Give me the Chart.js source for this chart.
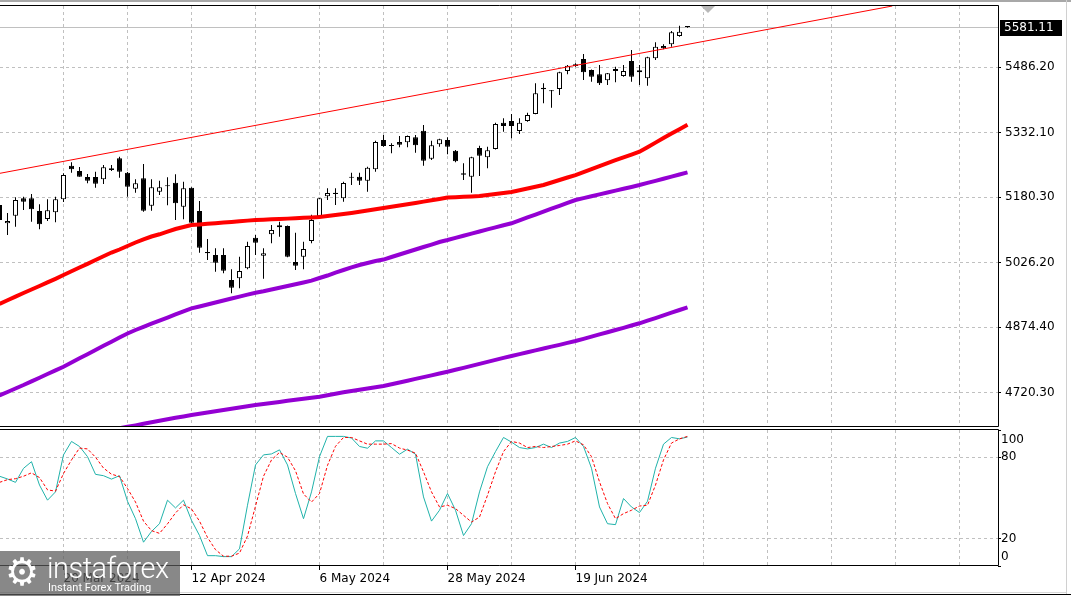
<!DOCTYPE html>
<html>
<head>
<meta charset="utf-8">
<script src="https://cdn.jsdelivr.net/npm/chart.js@4.4.1/dist/chart.umd.min.js"></script>
<style>
    html, body { margin: 0; padding: 0; background: #fff; }
    body { width: 1071px; height: 596px; position: relative; overflow: hidden; font-family: 'DejaVu Sans', sans-serif; }
    #mainChart { position: absolute; left: 0; top: 0; }
    #stochChart { position: absolute; left: 0; top: 428px; }
    .edge { position: absolute; }
    .edge-top { left: 0; top: 0; width: 1071px; height: 2px; background: #a8a8a8; }
    .edge-bottom { left: 0; top: 594px; width: 1071px; height: 1px; background: #000; }
    .edge-bottom2 { left: 0; top: 592px; width: 1067px; height: 1px; background: #d8d8d8; }
    .edge-right { left: 1066px; top: 0; width: 1px; height: 594px; background: #d0d0d0; }
    .watermark { position: absolute; left: 0; top: 551px; width: 180px; height: 45px; background: rgba(90, 90, 90, 0.72); color: #fff; }
    .watermark .gear { position: absolute; left: 5px; top: -2px; font-size: 38px; line-height: 46px; }
    .watermark .brand { position: absolute; left: 47px; top: 0; font-family: Roboto, sans-serif; font-weight: 300; font-size: 29px; line-height: 34px; letter-spacing: -0.5px; }
    .watermark .slogan { position: absolute; left: 48px; top: 30px; font-family: Roboto, sans-serif; font-size: 11px; line-height: 13px; }
</style>
</head>
<body>
<canvas id="mainChart" width="1071" height="430"></canvas>
<canvas id="stochChart" width="1071" height="168"></canvas>
<div class="edge edge-top"></div>
<div class="edge edge-bottom2"></div>
<div class="edge edge-bottom"></div>
<div class="edge edge-right"></div>
<div class="watermark"><span class="gear">⚙</span><span class="brand">instaforex</span><span class="slogan">Instant Forex Trading</span></div>
<script>
// daily bars; last bar holds the latest close
const opens = [5162.1, 5119.0, 5136.9, 5177.8, 5177.8, 5147.9, 5129.1, 5144.9, 5175.5, 5254.6, 5242.1, 5228.0, 5228.0, 5222.6, 5248.4, 5272.0, 5238.1, 5200.4, 5224.9, 5160.4, 5193.4, 5206.5, 5214.5, 5158.1,
    5202.8, 5147.9, 5051.4, 5044.4, 5044.4, 4985.5, 4989.5, 5013.0, 5085.1, 5042.7, 5093.1, 5109.6, 5112.6, 5027.9, 5040.4, 5077.3, 5135.5, 5182.5, 5191.0, 5177.8,
    5226.0, 5228.7, 5219.3, 5246.1, 5315.1, 5301.5, 5310.4, 5309.7, 5321.4, 5337.0, 5271.0, 5304.9, 5315.1, 5289.9, 5236.7, 5228.7, 5296.2, 5274.3, 5293.9, 5355.8,
    5359.8, 5336.3, 5359.8, 5376.3, 5438.2, 5432.1, 5435.1, 5477.5, 5493.3, 5505.7, 5479.8, 5469.7, 5455.6, 5477.5, 5465.7, 5501.0, 5479.1, 5460.3, 5507.4, 5536.3,
    5540.3, 5559.9, 5581.5];
const highs = [5173.8, 5143.2, 5180.2, 5181.6, 5187.9, 5163.7, 5175.5, 5181.6, 5236.7, 5262.6, 5251.5, 5235.0, 5240.4, 5256.2, 5256.2, 5275.8, 5240.0, 5222.6, 5258.6, 5222.6, 5219.3, 5227.3, 5234.3, 5216.9,
    5204.0, 5171.5, 5082.0, 5060.1, 5060.1, 5010.7, 5040.4, 5075.7, 5091.4, 5060.1, 5115.0, 5122.7, 5114.0, 5096.8, 5075.7, 5139.2, 5178.5, 5201.4, 5201.4, 5216.9,
    5238.1, 5238.1, 5252.2, 5313.4, 5326.8, 5307.3, 5324.5, 5325.5, 5326.8, 5350.4, 5313.4, 5318.0, 5321.4, 5291.5, 5260.2, 5275.5, 5301.6, 5299.3, 5355.8, 5366.1,
    5376.3, 5366.1, 5379.3, 5448.5, 5448.5, 5433.0, 5475.5, 5491.6, 5495.6, 5517.5, 5481.0, 5491.6, 5473.0, 5487.6, 5491.6, 5526.9, 5491.6, 5511.0, 5545.1, 5540.3,
    5571.7, 5584.1, 5583.0];
const lows = [5122.0, 5091.4, 5111.0, 5150.3, 5122.7, 5104.9, 5124.4, 5121.3, 5169.1, 5238.1, 5228.7, 5213.1, 5202.8, 5211.5, 5242.1, 5226.3, 5181.6, 5191.0, 5146.3, 5148.6, 5185.6, 5161.3, 5126.7, 5128.4,
    5118.5, 5049.8, 5032.6, 5005.0, 5001.3, 4954.2, 4966.0, 5010.7, 5044.4, 4988.6, 5071.9, 5087.4, 5039.0, 5009.0, 5010.7, 5071.9, 5133.8, 5173.8, 5162.1, 5169.8,
    5209.1, 5209.1, 5193.4, 5240.4, 5299.3, 5283.8, 5297.9, 5297.9, 5285.2, 5254.6, 5268.0, 5299.3, 5281.4, 5262.6, 5220.9, 5191.0, 5230.3, 5248.4, 5293.0, 5334.6,
    5319.1, 5329.2, 5358.1, 5375.5, 5401.5, 5391.1, 5421.0, 5469.7, 5487.6, 5456.3, 5452.3, 5444.5, 5444.5, 5450.9, 5464.1, 5452.3, 5444.5, 5442.9, 5503.4, 5528.6,
    5534.7, 5558.2, 5579.5];
const closes = [5126.7, 5124.4, 5173.8, 5169.8, 5151.9, 5116.6, 5149.6, 5175.5, 5232.7, 5246.1, 5228.7, 5219.3, 5212.2, 5250.8, 5244.4, 5240.4, 5205.1, 5213.1, 5148.6, 5203.7, 5203.7, 5206.0, 5166.1, 5201.4,
    5120.4, 5061.5, 5048.4, 5026.2, 5007.4, 4967.4, 5006.7, 5065.5, 5073.3, 5048.4, 5103.2, 5114.3, 5040.4, 5019.2, 5058.5, 5126.7, 5177.8, 5190.3, 5187.9, 5213.8,
    5226.3, 5219.3, 5249.9, 5310.4, 5300.9, 5300.9, 5304.0, 5324.5, 5302.6, 5266.3, 5302.6, 5316.7, 5299.3, 5264.9, 5233.4, 5274.3, 5278.1, 5290.8, 5352.7, 5348.0,
    5348.0, 5355.8, 5373.9, 5425.0, 5434.4, 5429.7, 5474.4, 5490.0, 5489.3, 5474.4, 5464.1, 5448.5, 5472.1, 5482.2, 5477.5, 5464.1, 5474.4, 5509.7, 5534.7, 5530.9,
    5568.6, 5570.0, 5581.11];

const ma50 = [4929.5, 4937.9, 4946.4, 4954.9, 4963.1, 4971.4, 4979.8, 4988.3, 4997.2, 5006.0, 5014.9, 5023.6, 5032.6, 5041.3, 5050.2, 5057.3, 5065.5, 5073.8, 5081.3, 5087.9, 5093.1, 5099.2, 5105.5, 5110.2,
    5114.9, 5116.4, 5117.8, 5119.2, 5120.6, 5122.0, 5123.7, 5125.3, 5126.7, 5127.4, 5128.4, 5129.1, 5130.0, 5131.0, 5131.9, 5132.8, 5133.8, 5136.1, 5138.5, 5140.8,
    5143.2, 5146.0, 5149.1, 5151.9, 5155.0, 5157.8, 5160.9, 5163.7, 5166.7, 5170.0, 5173.3, 5176.4, 5179.7, 5180.6, 5181.3, 5182.3, 5183.2, 5185.6, 5187.9, 5190.3,
    5192.6, 5196.6, 5200.9, 5204.9, 5209.1, 5215.0, 5220.9, 5226.8, 5232.6, 5239.7, 5246.8, 5253.8, 5260.9, 5267.5, 5274.3, 5280.9, 5287.5, 5298.1, 5308.9, 5319.7,
    5330.1, 5340.5, 5350.8];
const ma100 = [4713.6, 4721.8, 4730.1, 4738.3, 4747.0, 4755.5, 4764.2, 4772.9, 4781.4, 4791.3, 4801.2, 4810.8, 4820.7, 4830.6, 4840.2, 4850.1, 4859.5, 4867.8, 4875.3, 4882.6, 4889.9, 4897.2, 4904.5, 4911.8,
    4918.6, 4923.3, 4927.8, 4932.5, 4937.2, 4941.9, 4946.4, 4951.1, 4955.6, 4959.1, 4963.1, 4967.1, 4971.4, 4975.6, 4979.8, 4984.1, 4990.2, 4996.1, 5003.1, 5009.0,
    5015.1, 5020.8, 5025.5, 5030.2, 5033.7, 5039.6, 5045.5, 5051.4, 5057.3, 5063.2, 5069.0, 5074.9, 5079.6, 5084.8, 5089.8, 5094.7, 5099.7, 5104.6, 5109.5, 5114.5,
    5119.0, 5126.0, 5132.8, 5139.7, 5146.5, 5153.3, 5160.1, 5167.0, 5173.8, 5178.3, 5182.5, 5187.0, 5191.5, 5195.9, 5200.2, 5204.6, 5209.1, 5214.1, 5219.0, 5223.9,
    5228.9, 5233.8, 5238.8];
const ma200 = [null, null, null, null, null, null, null, null, null, null, null, null, null, null, 4632.4, 4636.4, 4639.9, 4643.4, 4647.0, 4650.5, 4654.0, 4657.6, 4661.1, 4664.4,
    4667.7, 4670.5, 4673.6, 4676.4, 4679.5, 4682.3, 4685.3, 4688.2, 4691.2, 4693.6, 4695.9, 4698.5, 4701.1, 4703.5, 4705.8, 4708.4, 4710.8, 4714.3, 4717.8, 4721.1,
    4724.2, 4727.0, 4730.1, 4733.1, 4736.0, 4740.2, 4744.2, 4748.4, 4752.7, 4756.9, 4761.1, 4765.4, 4769.6, 4774.1, 4778.8, 4783.5, 4788.2, 4792.7, 4797.4, 4802.1,
    4806.6, 4811.0, 4815.3, 4819.8, 4824.2, 4828.7, 4832.9, 4837.4, 4841.9, 4847.1, 4852.2, 4857.4, 4862.6, 4867.8, 4873.0, 4878.4, 4883.6, 4889.9, 4896.0, 4902.4,
    4908.7, 4914.9, 4921.2];

const stochK = [66, 64, 61.5, 71.8, 76.7, 59.5, 48.4, 54.5, 81.7, 91.6, 87.9, 80.4, 67.4, 66.4, 63.9, 66.4, 47.6, 34.8, 17.5, 25.4, 31.1, 48.4, 42.7, 48.4,
    33.6, 22.4, 7.6, 7.6, 6.9, 6.9, 12.6, 44.7, 74.3, 81.7, 82.4, 85.4, 74.3, 53.3, 34.8, 54.5, 80.4, 95.3, 95.3, 95.3,
    94.1, 87.9, 86.6, 92, 92, 87.1, 82.2, 85.9, 82.2, 50.8, 33, 41, 53.3, 41, 22.4, 31.1, 54.5, 73, 84.1, 94.5,
    91.1, 87.1, 86.1, 87.1, 89.6, 87.1, 90.4, 91.6, 94.5, 87.9, 71.9, 43.4, 31.1, 30.4, 49.6, 43.4, 39.3, 47.6, 71.9, 89.6,
    94.5, 93.5, 94.8];
const stochD = [61.5, 63.5, 64.2, 66, 68.5, 65, 56, 55, 68, 78, 86.7, 86.1, 80, 72, 67.5, 65.8, 57, 47, 33, 26, 24, 31, 39, 45,
    42, 33, 21, 12, 7.2, 7.2, 9.5, 22, 44, 66, 78, 83.5, 80, 70, 53, 47, 53.3, 74, 88, 94.5,
    94.5, 92, 89.6, 89.6, 89.6, 90, 86.7, 85.2, 83, 69.3, 54.5, 43.4, 44.7, 42.2, 37.3, 32.3, 36, 52, 69.3, 84.1,
    91.6, 90.4, 87.1, 87.9, 87.1, 87.9, 88.6, 89.6, 92, 89.1, 80.4, 61.9, 45.9, 34.8, 38.5, 41, 44.1, 44.7, 59.5, 78,
    90.4, 93.5, 95.3];

const trendBars = [0, 111.6];
const trendPrices = [5236.5, 5630.5];

const priceTicks = [4720.30, 4874.40, 5026.20, 5180.30, 5332.10, 5486.20];
const stochLevels = [100, 80, 20, 0];
const dateTickBars = [8, 24, 40, 56, 72];
const dateTickLabels = ['20 Mar 2024', '12 Apr 2024', '6 May 2024', '28 May 2024', '19 Jun 2024'];

const xMin = 0.0625;
const xMax = 124.8125;
const priceMin = 4639.5;
const priceMax = 5630.5;
const shiftBar = 88.6;
const lastPrice = closes[closes.length - 1];

const axisFont = { family: 'DejaVu Sans', size: 12 };
const gridColor = '#c0c0c0';
const clear = 'rgba(0,0,0,0)';

const gridBars = [];
for (let b = 8; b <= 120; b += 8) gridBars.push(b);

function toPoints(values) {
    return values.map((value, index) => ({ x: index, y: value }));
}

function lineSet(label, values, color, width, order, dash) {
    return {
        type: 'line', label, data: toPoints(values), borderColor: color, borderWidth: width,
        borderDash: dash || [], pointRadius: 0, tension: 0, fill: false, order,
    };
}

const panelFrame = {
    id: 'panelFrame',
    afterDraw(chart) {
        const { ctx, chartArea: area } = chart;
        ctx.save();
        ctx.strokeStyle = '#000';
        ctx.lineWidth = 1;
        ctx.beginPath();
        ctx.moveTo(0, area.top - 0.5);
        ctx.lineTo(area.right + 0.5, area.top - 0.5);
        ctx.lineTo(area.right + 0.5, area.bottom - 0.5);
        ctx.lineTo(0, area.bottom - 0.5);
        ctx.stroke();
        ctx.restore();
    },
};

const priceMarker = {
    id: 'priceMarker',
    beforeDatasetsDraw(chart) {
        const { ctx, chartArea: area, scales: { y } } = chart;
        const py = Math.round(y.getPixelForValue(lastPrice)) + 0.5;
        ctx.save();
        ctx.strokeStyle = '#c0c0c0';
        ctx.lineWidth = 1;
        ctx.beginPath();
        ctx.moveTo(area.left, py);
        ctx.lineTo(area.right, py);
        ctx.stroke();
        ctx.restore();
    },
    afterDraw(chart) {
        const { ctx, chartArea: area, scales: { x, y } } = chart;
        const py = Math.round(y.getPixelForValue(lastPrice));
        ctx.save();
        ctx.fillStyle = '#000';
        ctx.fillRect(area.right + 2, py - 7, 62, 16);
        ctx.fillStyle = '#fff';
        ctx.font = '12px "DejaVu Sans"';
        ctx.textBaseline = 'middle';
        ctx.fillText(lastPrice.toFixed(2), area.right + 6, py + 1);
        const sx = Math.round(x.getPixelForValue(shiftBar));
        ctx.fillStyle = '#b8b8b8';
        ctx.beginPath();
        ctx.moveTo(sx - 7, area.top);
        ctx.lineTo(sx + 7, area.top);
        ctx.lineTo(sx, area.top + 7);
        ctx.closePath();
        ctx.fill();
        ctx.restore();
    },
};

const stochAxisLabels = {
    id: 'stochAxisLabels',
    afterDraw(chart) {
        const { ctx, chartArea: area, scales: { y } } = chart;
        ctx.save();
        ctx.font = '12px "DejaVu Sans"';
        ctx.fillStyle = '#000';
        ctx.textBaseline = 'middle';
        stochLevels.forEach(level => {
            const py = Math.min(Math.max(y.getPixelForValue(level), area.top + 10), area.bottom - 9);
            ctx.fillText(String(level), area.right + 3, py);
        });
        ctx.restore();
    },
};

const sharedX = {
    type: 'linear',
    min: xMin,
    max: xMax,
    offset: false,
    afterBuildTicks: scale => { scale.ticks = gridBars.map(value => ({ value })); },
    border: { display: false, dash: [3, 3] },
};

function buildMainChart() {
    const wicks = lows.map((low, index) => ({ x: index, y: [low, highs[index]] }));
    const bodies = opens.map((open, index) => ({ x: index, y: [open, closes[index]] }));
    const bodyColors = closes.map((close, index) => (close >= opens[index] ? '#ffffff' : '#000000'));
    const trend = trendBars.map((bar, index) => ({ x: bar, y: trendPrices[index] }));

    new Chart(document.getElementById('mainChart'), {
        type: 'bar',
        data: {
            datasets: [
                { type: 'line', label: 'Trend', data: trend, borderColor: '#ff0000', borderWidth: 1, pointRadius: 0, order: 0 },
                lineSet('MA 50', ma50, '#ff0000', 4, 1),
                lineSet('MA 100', ma100, '#9400d3', 4, 1),
                lineSet('MA 200', ma200, '#9400d3', 4, 1),
                {
                    label: 'Body', data: bodies, backgroundColor: bodyColors, borderColor: '#000', borderWidth: 1,
                    borderSkipped: false, barThickness: 5, minBarLength: 1, grouped: false, inflateAmount: 0, order: 3,
                },
                { label: 'Wick', data: wicks, backgroundColor: '#000', barThickness: 1, grouped: false, inflateAmount: 0, order: 4 },
            ],
        },
        options: {
            responsive: false,
            animation: false,
            devicePixelRatio: 1,
            events: [],
            layout: { padding: { top: 6, bottom: 3, left: 0, right: 0 } },
            plugins: { legend: { display: false }, tooltip: { enabled: false } },
            scales: {
                x: {
                    ...sharedX,
                    ticks: { display: false },
                    grid: { color: gridColor, drawTicks: false, offset: false },
                    afterFit: scale => { scale.height = 0; scale.paddingLeft = 0; scale.paddingRight = 0; },
                },
                y: {
                    position: 'right',
                    min: priceMin,
                    max: priceMax,
                    afterBuildTicks: scale => { scale.ticks = priceTicks.map(value => ({ value })); },
                    ticks: { color: '#000', font: axisFont, padding: 4, callback: value => value.toFixed(2) },
                    grid: { color: gridColor, tickColor: '#000', tickLength: 3, tickBorderDash: [] },
                    border: { display: false, dash: [3, 3] },
                    afterFit: scale => { scale.width = 73; scale.paddingTop = 0; scale.paddingBottom = 0; },
                },
            },
        },
        plugins: [priceMarker, panelFrame],
    });
}

function buildStochChart() {
    new Chart(document.getElementById('stochChart'), {
        type: 'line',
        data: {
            datasets: [
                lineSet('%K', stochK, '#20b2aa', 1, 1),
                lineSet('%D', stochD, '#ff0000', 1, 0, [3, 2]),
            ],
        },
        options: {
            responsive: false,
            animation: false,
            devicePixelRatio: 1,
            events: [],
            layout: { padding: { top: 2, bottom: 2, left: 0, right: 0 } },
            plugins: { legend: { display: false }, tooltip: { enabled: false } },
            scales: {
                x: {
                    ...sharedX,
                    ticks: {
                        align: 'start', autoSkip: false, maxRotation: 0, minRotation: 0, color: '#000', font: axisFont, padding: 2,
                        callback: value => {
                            const at = dateTickBars.indexOf(value);
                            return at >= 0 ? dateTickLabels[at] : '';
                        },
                    },
                    grid: {
                        color: gridColor, tickLength: 4, tickBorderDash: [], offset: false,
                        tickColor: ctx => (dateTickBars.includes(ctx.tick.value) ? '#000' : clear),
                    },
                    afterFit: scale => { scale.height = 28; scale.paddingLeft = 0; scale.paddingRight = 0; },
                },
                y: {
                    position: 'right',
                    min: 0,
                    max: 100,
                    afterBuildTicks: scale => { scale.ticks = stochLevels.map(value => ({ value })); },
                    ticks: { display: false },
                    grid: {
                        color: ctx => (ctx.tick.value === 20 || ctx.tick.value === 80 ? gridColor : clear),
                        tickColor: '#000', tickLength: 3, tickBorderDash: [],
                    },
                    border: { display: false, dash: [3, 3] },
                    afterFit: scale => { scale.width = 73; scale.paddingTop = 0; scale.paddingBottom = 0; },
                },
            },
        },
        plugins: [stochAxisLabels, panelFrame],
    });
}

buildMainChart();
buildStochChart();
</script>
</body>
</html>
